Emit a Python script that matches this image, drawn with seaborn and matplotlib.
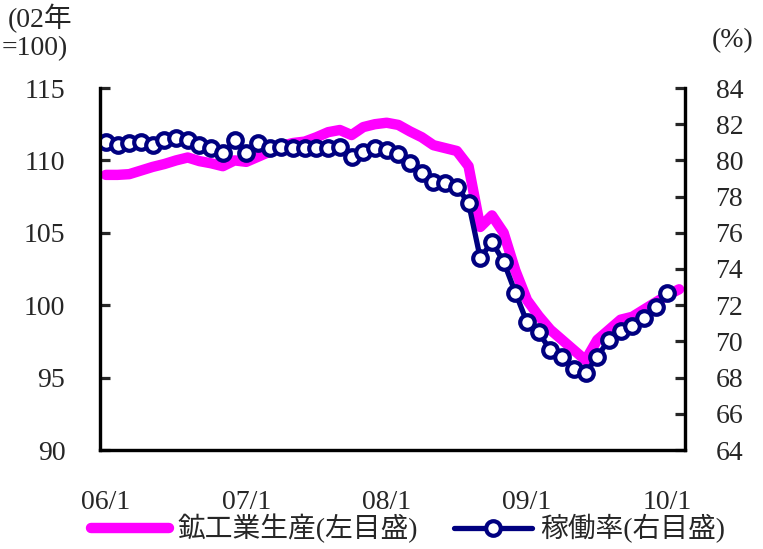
import numpy as np
import pandas as pd
import matplotlib
matplotlib.use("Agg")
import matplotlib.pyplot as plt
import seaborn as sns
from matplotlib.lines import Line2D

# Monthly series, Jan 2006 - Feb 2010
production = [109.0, 109.0, 109.05, 109.3, 109.55, 109.75, 110.0, 110.2, 109.95, 109.8,
              109.6, 110.0, 109.9, 110.25, 110.6, 111.0, 111.2, 111.3, 111.6, 111.95,
              112.1, 111.75, 112.3, 112.5, 112.6, 112.45, 112.0, 111.6, 111.05, 110.85,
              110.65, 109.6, 105.4, 106.2, 105.0, 102.4, 100.35, 99.25, 98.3, 97.6,
              96.9, 96.2, 97.6, 98.3, 99.0, 99.2, 99.7, 100.2, 100.7, 101.1]
utilization = [81.0, 80.85, 80.95, 81.0, 80.85, 81.1, 81.25, 81.15, 80.85, 80.7,
               80.4, 81.1, 80.4, 80.95, 80.7, 80.75, 80.7, 80.7, 80.7, 80.7,
               80.75, 80.2, 80.45, 80.7, 80.6, 80.35, 79.85, 79.3, 78.8, 78.75,
               78.55, 77.65, 74.6, 75.5, 74.4, 72.7, 71.05, 70.5, 69.5, 69.15,
               68.5, 68.25, 69.15, 70.1, 70.55, 70.85, 71.3, 71.9, 72.65]
year_labels = ["06/1", "07/1", "08/1", "09/1", "10/1"]
prod_label = "鉱工業生産(左目盛)"
util_label = "稼働率(右目盛)"

n = len(production)
df = pd.DataFrame({
    "month": np.arange(n),
    "production": production,
    "utilization": utilization + [np.nan] * (n - len(utilization)),
})

sns.set_style("white")
plt.rcParams["font.family"] = ["Liberation Serif", "Noto Sans CJK JP"]

MAGENTA = "#FF00FF"
NAVY = "#000080"
FS = 20

fig = plt.figure(figsize=(7.63, 5.49), dpi=100)
ax = fig.add_axes([100 / 763, 1 - 450 / 549, 585 / 763, 362 / 549])
ax2 = ax.twinx()

sns.lineplot(data=df, x="month", y="production", ax=ax, color=MAGENTA,
             linewidth=7.5, solid_capstyle="round", solid_joinstyle="round")
sns.lineplot(data=df.dropna(), x="month", y="utilization", ax=ax2, color=NAVY,
             linewidth=3.8, marker="o", markersize=10.5, markerfacecolor="white",
             markeredgecolor=NAVY, markeredgewidth=3.0)

ax.set_xlim(-0.5, n - 0.5)
ax.set_ylim(90, 115)
ax.set_yticks(np.arange(90, 116, 5))
ax2.set_ylim(64, 84)
ax2.set_yticks(np.arange(64, 85, 2))

# year boundaries carry the tick marks; labels sit on the January categories
ax.set_xticks(np.arange(11.5, n, 12))
ax.set_xticklabels([])
ax.set_xticks(np.arange(0, n, 12), minor=True)
ax.set_xticklabels(year_labels, minor=True)

for a in (ax, ax2):
    a.set_xlabel("")
    a.set_ylabel("")
    for side in ("left", "right", "bottom"):
        a.spines[side].set_visible(True)
        a.spines[side].set_color("black")
        a.spines[side].set_linewidth(2.3)
    a.spines["top"].set_visible(False)

ax.tick_params(axis="x", which="major", direction="in", length=7, width=2.3)
ax.tick_params(axis="x", which="minor", length=0, pad=29, labelsize=FS)
ax.tick_params(axis="y", direction="in", length=7, width=2.3, pad=25, labelsize=FS,
               left=True)
ax2.tick_params(axis="y", direction="in", length=7, width=2.3, pad=22, labelsize=FS,
                right=True)

fig.text(8 / 763, 1 - 4 / 549, "(02年", fontsize=FS, ha="left", va="top")
fig.text(2 / 763, 1 - 36 / 549, "=100)", fontsize=FS, ha="left", va="top")
fig.text(712 / 763, 1 - 28 / 549, "(%)", fontsize=FS, ha="left", va="top")

handles = [
    Line2D([], [], color=MAGENTA, linewidth=7.5, solid_capstyle="round"),
    Line2D([], [], color=NAVY, linewidth=3.8, marker="o", markersize=10.5,
           markerfacecolor="white", markeredgecolor=NAVY, markeredgewidth=3.0),
]
fig.legend(handles, [prod_label, util_label], loc="center",
           bbox_to_anchor=(0.535, 0.037), ncol=2, frameon=False,
           fontsize=20, handlelength=2.8, handletextpad=0.3, columnspacing=1.3)

fig.savefig("out.png", dpi=100)
